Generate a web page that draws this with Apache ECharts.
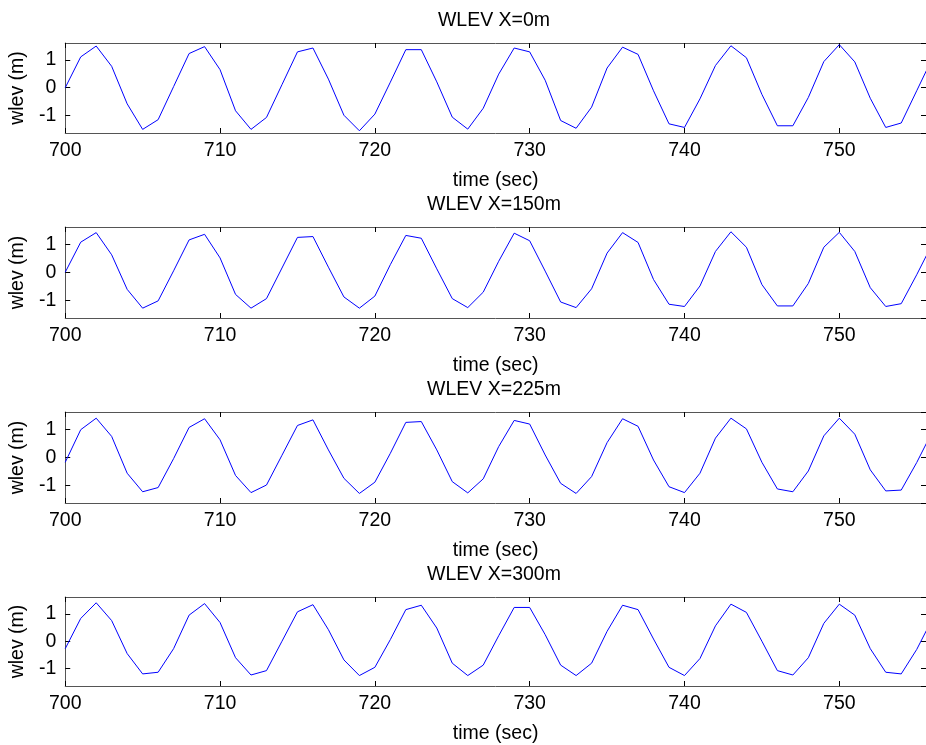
<!DOCTYPE html>
<html>
<head>
<meta charset="utf-8">
<script src="https://cdn.jsdelivr.net/npm/echarts@6/dist/echarts.min.js"></script>
<style>
html,body{margin:0;padding:0;background:#fff;}
#chart{width:926px;height:745px;}
</style>
</head>
<body>
<div id="chart"></div>
<script>
// time samples (sec)
var times = [700,701,702,703,704,705,706,707,708,709,710,711,712,713,714,715,716,717,718,719,
  720,721,722,723,724,725,726,727,728,729,730,731,732,733,734,735,736,737,738,739,
  740,741,742,743,744,745,746,747,748,749,750,751,752,753,754,755,756];

var titles = ['WLEV X=0m', 'WLEV X=150m', 'WLEV X=225m', 'WLEV X=300m'];
var xTicks = [700, 710, 720, 730, 740, 750];

var wlevX0 = [0.0,1.11,1.5,0.77,-0.58,-1.5,-1.15,0.04,1.23,1.48,0.65,-0.83,-1.5,-1.07,0.11,1.29,1.43,0.31,-0.99,-1.55,
  -0.95,0.2,1.37,1.37,0.21,-1.06,-1.49,-0.74,0.49,1.43,1.29,0.27,-1.18,-1.46,-0.7,0.71,1.46,1.2,-0.11,-1.3,
  -1.43,-0.4,0.8,1.51,1.08,-0.24,-1.37,-1.37,-0.35,0.94,1.55,0.93,-0.38,-1.43,-1.27,-0.11,1.05];

var wlevX150 = [0.0,1.07,1.41,0.62,-0.61,-1.28,-1.02,0.05,1.15,1.35,0.51,-0.79,-1.28,-0.94,0.15,1.24,1.27,0.18,-0.88,-1.28,
  -0.85,0.27,1.31,1.21,0.12,-0.94,-1.26,-0.71,0.39,1.39,1.12,0.04,-1.06,-1.26,-0.59,0.68,1.41,1.06,-0.26,-1.14,
  -1.22,-0.49,0.74,1.44,0.89,-0.44,-1.2,-1.2,-0.4,0.89,1.42,0.74,-0.55,-1.22,-1.12,-0.09,1.0];

var wlevX225 = [-0.18,0.98,1.39,0.74,-0.57,-1.23,-1.08,-0.05,1.06,1.37,0.62,-0.65,-1.26,-0.99,0.07,1.13,1.33,0.26,-0.75,-1.29,
  -0.89,0.14,1.24,1.27,0.26,-0.87,-1.27,-0.77,0.38,1.31,1.18,0.08,-0.93,-1.29,-0.69,0.52,1.37,1.1,-0.1,-1.05,
  -1.26,-0.57,0.68,1.39,1.01,-0.18,-1.13,-1.23,-0.49,0.76,1.39,0.82,-0.45,-1.2,-1.17,-0.19,0.9];

var wlevX300 = [-0.27,0.83,1.4,0.75,-0.45,-1.19,-1.13,-0.27,0.95,1.37,0.68,-0.6,-1.23,-1.07,0.0,1.07,1.33,0.42,-0.68,-1.25,
  -0.95,0.06,1.15,1.31,0.48,-0.8,-1.25,-0.87,0.2,1.23,1.23,0.24,-0.87,-1.25,-0.8,0.36,1.31,1.15,0.08,-0.95,
  -1.25,-0.63,0.56,1.35,1.05,0.0,-1.07,-1.23,-0.6,0.65,1.35,0.95,-0.27,-1.13,-1.19,-0.3,0.8];

var seriesData = [wlevX0, wlevX150, wlevX225, wlevX300];

var X_MIN = 700, X_MAX = 755.6, X_STEP = 10;
var Y_MIN = -1.63, Y_MAX = 1.61;

var FONT = '"Liberation Sans", Arial, Helvetica, sans-serif';
var gridTops = [43, 227, 412, 597];
var gridHeights = [90, 91, 91, 90];
var titleTops = [11, 195, 380, 565];
var GRID_LEFT = 65, GRID_WIDTH = 864;
var BOX = '#555555';

var chart = echarts.init(document.getElementById('chart'), null, {renderer: 'canvas'});

var grids = [], xAxes = [], yAxes = [], series = [], titleArr = [];
for (var i = 0; i < 4; i++) {
  grids.push({left: GRID_LEFT, width: GRID_WIDTH, top: gridTops[i], height: gridHeights[i], show: false});
  titleArr.push({
    text: titles[i], left: GRID_LEFT + GRID_WIDTH / 2 - 3, top: titleTops[i], padding: 0, textAlign: 'center',
    textStyle: {fontFamily: FONT, fontSize: 19.5, fontWeight: 'normal', color: '#000'}
  });
  // bottom x axis
  xAxes.push({
    type: 'value', gridIndex: i, position: 'bottom', min: X_MIN, max: X_MAX, interval: X_STEP,
    name: 'time (sec)', nameLocation: 'middle', nameGap: 38,
    nameTextStyle: {fontFamily: FONT, fontSize: 19.5, color: '#000'},
    axisLine: {show: true, onZero: false, lineStyle: {color: BOX, width: 1}},
    axisTick: {show: true, inside: true, length: 5, lineStyle: {color: '#000'}},
    axisLabel: {show: true, margin: 8, showMaxLabel: false, fontFamily: FONT, fontSize: 19.5, color: '#000',
      formatter: function (v) { return xTicks.indexOf(v) >= 0 ? String(v) : ''; }},
    splitLine: {show: false}
  });
  // top x axis (box + ticks)
  xAxes.push({
    type: 'value', gridIndex: i, position: 'top', min: X_MIN, max: X_MAX, interval: X_STEP,
    axisLine: {show: true, onZero: false, lineStyle: {color: BOX, width: 1}},
    axisTick: {show: true, inside: true, length: 5, lineStyle: {color: '#000'}},
    axisLabel: {show: false}, splitLine: {show: false}
  });
  // left y axis
  yAxes.push({
    type: 'value', gridIndex: i, position: 'left', min: Y_MIN, max: Y_MAX, splitNumber: 3,
    name: 'wlev (m)', nameLocation: 'middle', nameGap: 34, nameRotate: 90,
    nameTextStyle: {fontFamily: FONT, fontSize: 19.5, color: '#000'},
    axisLine: {show: true, onZero: false, lineStyle: {color: BOX, width: 1}},
    axisTick: {show: true, inside: true, length: 5, lineStyle: {color: '#000'}},
    axisLabel: {show: true, margin: 9, showMinLabel: false, showMaxLabel: false, fontFamily: FONT, fontSize: 19.5, color: '#000',
      formatter: function (v) { return (Math.abs(v - Math.round(v)) < 1e-9) ? String(Math.round(v)) : ''; }},
    splitLine: {show: false}
  });
  // right y axis (box + ticks)
  yAxes.push({
    type: 'value', gridIndex: i, position: 'right', min: Y_MIN, max: Y_MAX, splitNumber: 3,
    axisLine: {show: true, onZero: false, lineStyle: {color: BOX, width: 1}},
    axisTick: {show: true, inside: true, length: 5, lineStyle: {color: '#000'}},
    axisLabel: {show: false}, splitLine: {show: false}
  });
  var pts = [];
  for (var k = 0; k < times.length; k++) pts.push([times[k], seriesData[i][k]]);
  series.push({
    type: 'line', xAxisIndex: i * 2, yAxisIndex: i * 2, data: pts,
    showSymbol: false, symbol: 'none', clip: true, animation: false,
    lineStyle: {color: '#0000ff', width: 1}
  });
}

chart.setOption({
  animation: false,
  backgroundColor: '#ffffff',
  title: titleArr,
  grid: grids,
  xAxis: xAxes,
  yAxis: yAxes,
  series: series
});
</script>
</body>
</html>
